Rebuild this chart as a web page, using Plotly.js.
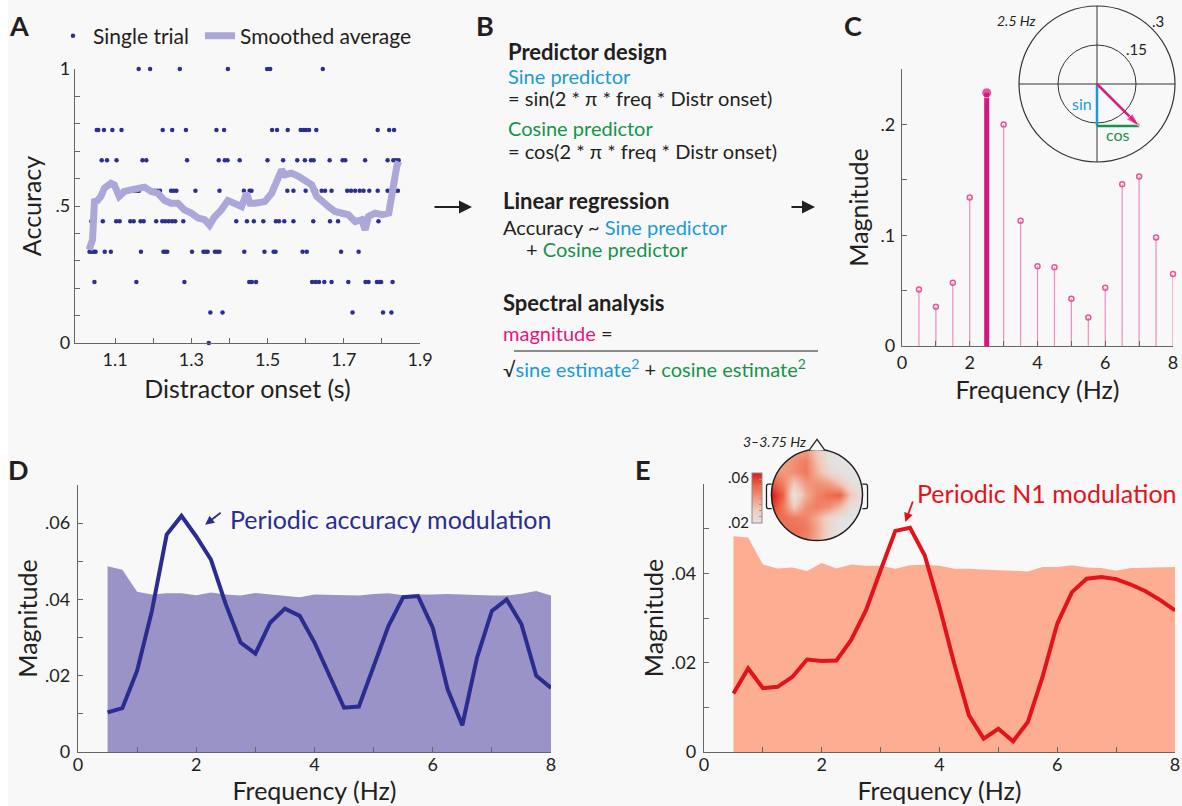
<!DOCTYPE html>
<html>
<head>
<meta charset="utf-8">
<script src="https://cdn.plot.ly/plotly-3.0.1.min.js"></script>
<style>html,body{margin:0;padding:0;background:#f8f8f8;}#chart{width:1182px;height:806px;}</style>
</head>
<body>
<div id="chart"></div>
<script>
// ---------- Panel A: single trials (distractor onset, s) grouped by accuracy level ----------
const accLevels = [1, 7/9, 6/9, 5/9, 4/9, 3/9, 2/9, 1/9, 0];
const onsetAcc9 = [1.162,1.192,1.270,1.396,1.499,1.507,1.645];
const onsetAcc7 = [1.052,1.056,1.071,1.093,1.117,1.225,1.250,1.286,1.366,1.386,1.512,1.525,1.553,1.587,1.595,1.601,1.609,1.628,1.789,1.819,1.832];
const onsetAcc6 = [1.065,1.079,1.104,1.172,1.182,1.289,1.372,1.388,1.395,1.427,1.500,1.541,1.578,1.598,1.614,1.621,1.663,1.697,1.704,1.756,1.815,1.830,1.837,1.844];
const onsetAcc5 = [1.068,1.122,1.129,1.136,1.144,1.151,1.158,1.163,1.196,1.204,1.211,1.218,1.247,1.254,1.261,1.311,1.374,1.438,1.453,1.458,1.552,1.568,1.600,1.627,1.642,1.651,1.668,1.709,1.719,1.730,1.742,1.752,1.767,1.789,1.815,1.822,1.828,1.835,1.842];
const onsetAcc4 = [1.038,1.068,1.103,1.112,1.140,1.149,1.167,1.175,1.208,1.224,1.232,1.241,1.250,1.258,1.279,1.337,1.418,1.446,1.464,1.489,1.522,1.530,1.544,1.568,1.620,1.664,1.685,1.737,1.744,1.791];
const onsetAcc3 = [1.033,1.039,1.045,1.049,1.073,1.089,1.168,1.227,1.232,1.237,1.302,1.332,1.338,1.343,1.362,1.368,1.374,1.439,1.492,1.516,1.521,1.592,1.603,1.693,1.739];
const onsetAcc2 = [1.046,1.156,1.282,1.452,1.459,1.470,1.617,1.626,1.635,1.649,1.668,1.712,1.757,1.765,1.787,1.793,1.798,1.828];
const onsetAcc1 = [1.350,1.382,1.723,1.803,1.825];
const onsetAcc0 = [1.346];
const onsetGroups = [onsetAcc9, onsetAcc7, onsetAcc6, onsetAcc5, onsetAcc4, onsetAcc3, onsetAcc2, onsetAcc1, onsetAcc0];

const smoothX = [1.032,1.041,1.046,1.054,1.063,1.072,1.089,1.098,1.111,1.125,1.142,1.160,1.177,1.195,1.212,1.230,1.247,1.265,1.282,1.300,1.318,1.335,1.348,1.361,1.379,1.396,1.414,1.432,1.445,1.454,1.467,1.493,1.511,1.528,1.537,1.546,1.563,1.581,1.598,1.616,1.629,1.642,1.660,1.677,1.695,1.712,1.730,1.747,1.756,1.765,1.782,1.800,1.818,1.826,1.835,1.839,1.844];
const smoothY = [0.34,0.377,0.516,0.52,0.535,0.565,0.583,0.577,0.535,0.553,0.559,0.565,0.569,0.553,0.547,0.52,0.51,0.51,0.486,0.474,0.456,0.45,0.43,0.46,0.486,0.52,0.51,0.498,0.547,0.51,0.51,0.516,0.547,0.608,0.632,0.614,0.62,0.608,0.595,0.577,0.535,0.516,0.498,0.48,0.474,0.468,0.443,0.45,0.413,0.462,0.474,0.468,0.474,0.547,0.589,0.644,0.662];

// ---------- Panel C: spectrum of one participant ----------
const freqC = [0.5,1,1.5,2,2.5,3,3.5,4,4.5,5,5.5,6,6.5,7,7.5,8];
const magC  = [0.051,0.0354,0.057,0.134,0.2285,0.200,0.113,0.072,0.071,0.0426,0.0258,0.0525,0.146,0.153,0.098,0.065];
const sinEstimate = -0.1615;
const cosEstimate = 0.1615;
const polarTicks = [0.15, 0.3];

// ---------- Panels D & E ----------
const freqDE = [0.5,0.75,1,1.25,1.5,1.75,2,2.25,2.5,2.75,3,3.25,3.5,3.75,4,4.25,4.5,4.75,5,5.25,5.5,5.75,6,6.25,6.5,6.75,7,7.25,7.5,7.75,8];
const threshD = [0.0487,0.0478,0.0420,0.0413,0.0416,0.0416,0.0411,0.0418,0.0413,0.0410,0.0417,0.0413,0.0410,0.0406,0.0413,0.0412,0.0410,0.0410,0.0414,0.0416,0.0411,0.0413,0.0413,0.0414,0.0413,0.0411,0.0410,0.0410,0.0415,0.0422,0.0410];
const magD = [0.0104,0.0115,0.0213,0.0370,0.0570,0.0619,0.0565,0.0504,0.0387,0.0287,0.0258,0.0339,0.0376,0.0357,0.0287,0.0204,0.0116,0.0119,0.0226,0.0330,0.0406,0.0409,0.0326,0.0165,0.0070,0.0248,0.0370,0.0400,0.0335,0.0200,0.0168];
const threshE = [0.0483,0.0480,0.0420,0.0411,0.0413,0.0405,0.0423,0.0411,0.0420,0.0417,0.0417,0.0410,0.0418,0.0419,0.0417,0.0410,0.0410,0.0408,0.0407,0.0406,0.0404,0.0414,0.0414,0.0418,0.0413,0.0412,0.0406,0.0412,0.0413,0.0413,0.0414];
const magE = [0.0131,0.0187,0.0143,0.0146,0.0168,0.0207,0.0204,0.0205,0.0251,0.0317,0.0407,0.0495,0.0502,0.0440,0.0325,0.0198,0.0082,0.0030,0.0052,0.0024,0.0067,0.0168,0.0287,0.0358,0.0388,0.0392,0.0387,0.0375,0.0360,0.0340,0.0317];

// ---------- Topography (3–3.75 Hz), rows top->bottom ----------
const topoX = [-1,-0.75,-0.5,-0.25,0,0.25,0.5,0.75,1];
const topoY = [1,0.75,0.5,0.25,0,-0.25,-0.5,-0.75,-1];
const topoZ = [
  [.030,.032,.038,.040,.030,.022,.020,.020,.020],
  [.032,.038,.042,.045,.032,.022,.020,.020,.020],
  [.042,.040,.042,.046,.035,.025,.021,.020,.020],
  [.052,.045,.030,.040,.042,.040,.032,.022,.020],
  [.060,.050,.020,.036,.044,.048,.050,.030,.020],
  [.056,.046,.030,.042,.045,.042,.034,.022,.020],
  [.048,.048,.046,.044,.036,.026,.021,.020,.020],
  [.040,.046,.048,.046,.038,.026,.020,.020,.020],
  [.034,.042,.046,.044,.036,.025,.020,.020,.020]
];

// ---------- styling ----------
const W = 1182, H = 806;
const BG = '#f8f8f8';
const INK = '#231f20';
const FONT = 'Lato, "Open Sans", sans-serif';
const BLUE = '#1b9ad6', GREEN = '#17934a', MAGENTA = '#e0197d';
const NAVY = '#2a2d8f', RED = '#e3121b';
const fx = p => p / W;
const fy = p => 1 - p / H;

// panel A traces
const dotX = [], dotY = [];
onsetGroups.forEach((g, i) => g.forEach(v => { dotX.push(v); dotY.push(accLevels[i]); }));

const traces = [];
traces.push({type:'scatter', mode:'markers', x:dotX, y:dotY, name:'Single trial', xaxis:'x', yaxis:'y', legend:'legend',
  marker:{size:4.5, color:'#2b2f8f'}, cliponaxis:false, hoverinfo:'skip'});
traces.push({type:'scatter', mode:'lines', x:smoothX, y:smoothY, name:'Smoothed average', xaxis:'x', yaxis:'y', legend:'legend2',
  line:{color:'#aba7d8', width:7}, hoverinfo:'skip'});

// panel C stems
const peakIdx = magC.indexOf(Math.max(...magC));
const stemX = [], stemY = [], mkX = [], mkY = [];
freqC.forEach((f, i) => { if (i !== peakIdx) { stemX.push(f, f, null); stemY.push(0, magC[i], null); mkX.push(f); mkY.push(magC[i]); } });
traces.push({type:'scatter', mode:'lines', x:stemX, y:stemY, xaxis:'x2', yaxis:'y2', showlegend:false,
  line:{color:'#f08cbf', width:1.2}, hoverinfo:'skip'});
traces.push({type:'scatter', mode:'markers', x:mkX, y:mkY, xaxis:'x2', yaxis:'y2', showlegend:false, cliponaxis:false,
  marker:{symbol:'circle-open', size:5, color:'#e8559b', line:{width:1.5}}, hoverinfo:'skip'});
traces.push({type:'scatter', mode:'lines+markers', x:[freqC[peakIdx], freqC[peakIdx]], y:[0, magC[peakIdx]], xaxis:'x2', yaxis:'y2',
  showlegend:false, cliponaxis:false, line:{color:'#d8157c', width:5}, marker:{size:[0,10], color:'#d8157c'}, hoverinfo:'skip'});

// polar inset
const rSin = Math.abs(sinEstimate);
const thSin = sinEstimate < 0 ? -90 : 90;
const rMag = Math.hypot(sinEstimate, cosEstimate);
const thMag = Math.atan2(sinEstimate, cosEstimate) * 180 / Math.PI;
traces.push({type:'scatterpolar', mode:'lines', r:[0, rSin], theta:[0, thSin], subplot:'polar', showlegend:false,
  line:{color:BLUE, width:2.5}, hoverinfo:'skip'});
traces.push({type:'scatterpolar', mode:'lines', r:[rSin, rMag], theta:[thSin, thMag], subplot:'polar', showlegend:false,
  line:{color:GREEN, width:2.5}, hoverinfo:'skip'});
traces.push({type:'scatterpolar', mode:'lines+markers', r:[0, rMag], theta:[thMag, thMag], subplot:'polar', showlegend:false,
  line:{color:MAGENTA, width:2.5}, marker:{symbol:'arrow', size:[0,14], angle:90 - thMag, color:MAGENTA}, hoverinfo:'skip'});

// panel D
traces.push({type:'scatter', mode:'lines', x:freqDE, y:threshD, xaxis:'x3', yaxis:'y3', showlegend:false,
  fill:'tozeroy', fillcolor:'#9993c7', line:{width:0, color:'#9993c7'}, hoverinfo:'skip'});
traces.push({type:'scatter', mode:'lines', x:freqDE, y:magD, xaxis:'x3', yaxis:'y3', showlegend:false,
  line:{color:NAVY, width:4}, hoverinfo:'skip'});
// panel E
traces.push({type:'scatter', mode:'lines', x:freqDE, y:threshE, xaxis:'x4', yaxis:'y4', showlegend:false,
  fill:'tozeroy', fillcolor:'#fdae92', line:{width:0, color:'#fdae92'}, hoverinfo:'skip'});
traces.push({type:'scatter', mode:'lines', x:freqDE, y:magE, xaxis:'x4', yaxis:'y4', showlegend:false,
  line:{color:RED, width:4}, hoverinfo:'skip'});
// topography
traces.push({type:'heatmap', x:topoX, y:topoY, z:topoZ, xaxis:'x5', yaxis:'y5', zsmooth:'best', zmin:0.02, zmax:0.06,
  showlegend:false, hoverinfo:'skip',
  colorscale:[[0,'#e3e3e3'],[0.25,'#f1cbbd'],[0.5,'#f19a80'],[0.75,'#ec6347'],[1,'#dc1c1c']],
  colorbar:{x:fx(752), xanchor:'left', y:fy(498), yanchor:'middle', len:50, lenmode:'pixels', thickness:10,
    xpad:0, ypad:0, outlinecolor:'#8a8a8a', outlinewidth:1, showticklabels:false, ticks:'inside', ticklen:3,
    tickcolor:'#999', tickvals:[0.025,0.03,0.035,0.04,0.045,0.05,0.055]}});

// ---------- axes ----------
const minorTicks = extra => Object.assign({ticks:'inside', ticklen:5, tickcolor:'#666'}, extra);
function ax(extra, fs) {
  return Object.assign({showline:true, linecolor:'#666', linewidth:1.2, ticks:'inside', ticklen:5, tickcolor:'#666',
    showgrid:false, zeroline:false, tickfont:{size:fs || 18, color:INK, family:FONT}, fixedrange:true}, extra);
}
const tf = (s, so) => ({text:s, standoff:so, font:{size:25, color:INK, family:FONT}});
const legendBase = {orientation:'h', y:fy(36), xanchor:'left', yanchor:'middle', font:{size:21, color:INK, family:FONT},
  bgcolor:'rgba(0,0,0,0)', itemwidth:30};

const layout = {
  width:W, height:H, margin:{l:0, r:0, t:0, b:0}, paper_bgcolor:BG, plot_bgcolor:'rgba(0,0,0,0)',
  font:{family:FONT, color:INK},
  showlegend:true,
  legend:Object.assign({x:fx(53)}, legendBase),
  legend2:Object.assign({x:fx(200)}, legendBase),
  xaxis: ax({domain:[fx(75), fx(420)], range:[0.995, 1.9], anchor:'y', tickvals:[1.1,1.3,1.5,1.7,1.9],
    ticktext:['1.1','1.3','1.5','1.7','1.9'], minor:minorTicks({tickvals:[1.2,1.4,1.6,1.8]}),
    title:tf('Distractor onset (s)', 11)}),
  yaxis: ax({domain:[fy(343), fy(69)], range:[0,1], anchor:'x', tickvals:[0,0.5,1], ticktext:['0','.5','1'],
    minor:minorTicks({dtick:0.1, tick0:0}), title:tf('Accuracy', 6)}),
  xaxis2: ax({domain:[fx(902), fx(1173)], range:[0,8], anchor:'y2', tickvals:[0,2,4,6,8],
    minor:minorTicks({dtick:1, tick0:0}), title:tf('Frequency (Hz)', 9)}),
  yaxis2: ax({domain:[fy(346), fy(69)], range:[0,0.25], anchor:'x2', tickvals:[0,0.1,0.2], ticktext:['0','.1','.2'],
    ticklabelstandoff:2, minor:minorTicks({dtick:0.05, tick0:0}), title:tf('Magnitude', 4)}),
  xaxis3: ax({domain:[fx(78), fx(551)], range:[0,8], anchor:'y3', tickvals:[0,2,4,6,8], ticklabelstandoff:-4,
    minor:minorTicks({dtick:1, tick0:0}), title:tf('Frequency (Hz)', 2)}, 18),
  yaxis3: ax({domain:[fy(752), fy(485)], range:[0,0.07], anchor:'x3', tickvals:[0,0.02,0.04,0.06], ticktext:['0','.02','.04','.06'],
    ticklabelstandoff:3, minor:minorTicks({dtick:0.01, tick0:0}), title:tf('Magnitude', 0)}, 18),
  xaxis4: ax({domain:[fx(704), fx(1175)], range:[0,8], anchor:'y4', tickvals:[0,2,4,6,8], ticklabelstandoff:-4,
    minor:minorTicks({dtick:1, tick0:0}), title:tf('Frequency (Hz)', 2)}, 18),
  yaxis4: ax({domain:[fy(752), fy(484)], range:[0,0.06], anchor:'x4', tickvals:[0,0.02,0.04], ticktext:['0','.02','.04'],
    ticklabelstandoff:3, minor:minorTicks({dtick:0.01, tick0:0}), title:tf('Magnitude', 0)}, 18),
  xaxis5: {domain:[fx(760.1), fx(873.9)], range:[-1.25,1.25], anchor:'y5', visible:false, fixedrange:true},
  yaxis5: {domain:[fy(551.9), fy(438.1)], range:[-1.25,1.25], anchor:'x5', visible:false, fixedrange:true},
  polar: {domain:{x:[fx(1018), fx(1176)], y:[fy(162), fy(6)]}, bgcolor:'rgba(0,0,0,0)',
    radialaxis:{range:[0,0.3], tickvals:polarTicks, showticklabels:false, showline:false, ticks:'',
      gridcolor:'#333', gridwidth:1, angle:45, layer:'below traces'},
    angularaxis:{tickvals:[0,90,180,270], showticklabels:false, ticks:'', gridcolor:'#333', gridwidth:1,
      showline:true, linecolor:'#333', linewidth:1.2, layer:'below traces'}},
  annotations:[], shapes:[]
};

// thin white strip along the left edge of the figure
layout.shapes.push({type:'rect', xref:'paper', yref:'paper', x0:0, x1:fx(8), y0:0, y1:1, fillcolor:'#ffffff', line:{width:0}, layer:'below'});

// ---------- text annotations ----------
function txt(t, x, y, o) {
  layout.annotations.push(Object.assign({text:t, x:fx(x), y:fy(y), xref:'paper', yref:'paper', showarrow:false,
    xanchor:'left', yanchor:'middle', align:'left', font:{size:20, color:INK, family:FONT}}, o || {}));
}
const big = {font:{size:27, color:INK, family:FONT}, xanchor:'center'};
txt('<b>A</b>', 19, 25, big); txt('<b>B</b>', 485, 25, big); txt('<b>C</b>', 853, 25, big);
txt('<b>D</b>', 19, 470, big); txt('<b>E</b>', 643, 470, big);

const sp = (c, s) => `<span style="color:${c}">${s}</span>`;
const bold = {font:{size:22, color:INK, family:FONT}};
txt('<b>Predictor design</b>', 506, 52, bold);
txt(sp(BLUE, 'Sine predictor'), 506, 76);
txt('= sin(2 * π * freq * Distr onset)', 506, 98);
txt(sp(GREEN, 'Cosine predictor'), 506, 128);
txt('= cos(2 * π * freq * Distr onset)', 506, 151);
txt('<b>Linear regression</b>', 501, 201, bold);
txt('Accuracy ~ ' + sp(BLUE, 'Sine predictor'), 501, 227);
txt('+ ' + sp(GREEN, 'Cosine predictor'), 524, 249);
txt('<b>Spectral analysis</b>', 501, 302, bold);
txt(sp(MAGENTA, 'magnitude') + ' =', 501, 333);
txt('√' + sp(BLUE, 'sine estimate<sup>2</sup>') + ' + ' + sp(GREEN, 'cosine estimate<sup>2</sup>'), 501, 368);
layout.shapes.push({type:'line', xref:'paper', yref:'paper', x0:fx(514), x1:fx(818), y0:fy(351), y1:fy(351), line:{color:INK, width:1.2}});

// flow arrows
function arrow(x0, x1, y) {
  layout.annotations.push({text:'', xref:'paper', yref:'paper', x:fx(x1), y:fy(y), ax:x0 - x1, ay:0,
    showarrow:true, arrowhead:2, arrowsize:1.3, arrowwidth:2, arrowcolor:INK});
}
arrow(433, 472, 207);
arrow(790, 815, 207);

// polar labels
txt('<i>2.5 Hz</i>', 1038, 21, {xanchor:'right', font:{size:14, color:INK, family:FONT}});
txt('.3', 1150, 21, {font:{size:15, color:INK, family:FONT}});
txt('.15', 1124, 49, {font:{size:15, color:INK, family:FONT}});
txt(sp(BLUE, 'sin'), 1094, 103, {xanchor:'right', font:{size:16, color:BLUE, family:FONT}});
txt(sp(GREEN, 'cos'), 1118, 135, {xanchor:'center', font:{size:16, color:GREEN, family:FONT}});

// topo labels
txt('<i>3–3.75 Hz</i>', 808, 442, {xanchor:'right', font:{size:14, color:INK, family:FONT}});
txt('.06', 751, 477, {xanchor:'right', font:{size:15, color:INK, family:FONT}});
txt('.02', 751, 522, {xanchor:'right', font:{size:15, color:INK, family:FONT}});

// D / E callouts
layout.annotations.push({text:'Periodic accuracy modulation', xref:'x3', yref:'y3', x:2.54, y:0.0611, xanchor:'left', yanchor:'middle',
  showarrow:false, font:{size:25, color:NAVY, family:FONT}});
layout.annotations.push({text:'', xref:'x3', yref:'y3', x:2.15, y:0.0596, ax:17, ay:-13, showarrow:true,
  arrowhead:2, arrowsize:1, arrowwidth:1.8, arrowcolor:NAVY});
layout.annotations.push({text:'Periodic N1 modulation', xref:'x4', yref:'y4', x:3.58, y:0.058, xanchor:'left', yanchor:'middle',
  showarrow:false, font:{size:25, color:RED, family:FONT}});
layout.annotations.push({text:'', xref:'x4', yref:'y4', x:3.42, y:0.0515, ax:8, ay:-22, showarrow:true,
  arrowhead:2, arrowsize:1, arrowwidth:1.8, arrowcolor:RED});

// topography head: mask outside circle, outline, nose, ears
let mask = 'M -1.25,-1.25 L 1.25,-1.25 L 1.25,1.25 L -1.25,1.25 Z M 1,0';
for (let k = 1; k <= 96; k++) { const a = 2 * Math.PI * k / 96; mask += ` L ${Math.cos(a).toFixed(4)},${Math.sin(a).toFixed(4)}`; }
mask += ' Z';
layout.shapes.push({type:'path', xref:'x5', yref:'y5', path:mask, fillrule:'evenodd', fillcolor:BG, line:{width:0}});
layout.shapes.push({type:'circle', xref:'x5', yref:'y5', x0:-1, x1:1, y0:-1, y1:1, line:{color:INK, width:1.5}});
layout.shapes.push({type:'path', xref:'x5', yref:'y5', path:'M -0.17,0.985 L 0,1.22 L 0.17,0.985', fillcolor:BG, line:{color:INK, width:1.3}});
layout.shapes.push({type:'path', xref:'x5', yref:'y5', path:'M -0.995,0.24 L -1.07,0.24 Q -1.11,0.24 -1.11,0.18 L -1.11,-0.24 Q -1.11,-0.3 -1.07,-0.3 L -0.995,-0.3', line:{color:INK, width:1.3}});
layout.shapes.push({type:'path', xref:'x5', yref:'y5', path:'M 0.995,0.24 L 1.07,0.24 Q 1.11,0.24 1.11,0.18 L 1.11,-0.24 Q 1.11,-0.3 1.07,-0.3 L 0.995,-0.3', line:{color:INK, width:1.3}});

Plotly.newPlot('chart', traces, layout, {displayModeBar:false, staticPlot:true});
</script>
</body>
</html>
